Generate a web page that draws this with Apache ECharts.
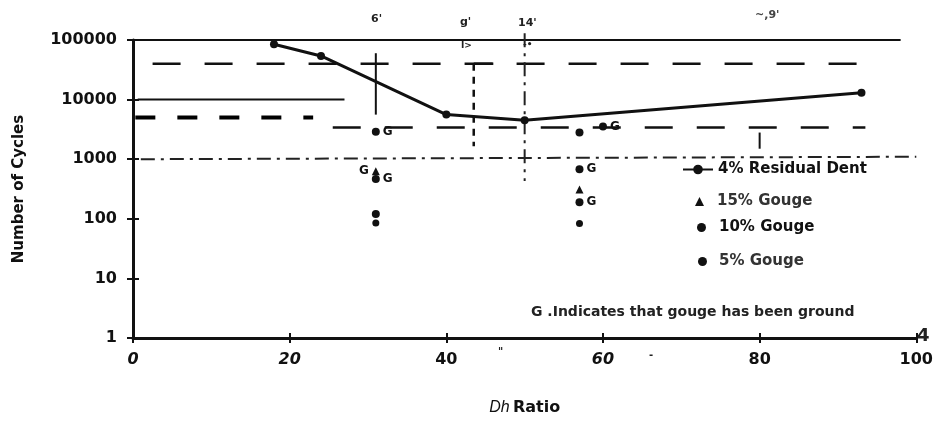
<!DOCTYPE html>
<html>
<head>
<meta charset="utf-8">
<script src="https://cdn.jsdelivr.net/npm/echarts@6/dist/echarts.min.js"></script>
<style>
  html, body { margin: 0; background: #fff; }
  #chart { width: 936px; height: 421px; }
</style>
</head>
<body>
<div id="chart"></div>
<script>
const xTicks = [0, 20, 40, 60, 80, 100];
const xItalic = [0, 20, 60];
const yTicks = [1, 10, 100, 1000, 10000, 100000];

// 4% residual dent curve
const dentRatio = [18, 24, 40, 50, 93];
const dentCycles = [85000, 54000, 5600, 4500, 13000];

// gouge tests: [Dh ratio, cycles, ground mark]
const gouge15 = [[31, 630, 'G'], [57, 310, '']];
const gouge10 = [[31, 2900, 'G'], [57, 2800, ''], [60, 3550, 'G'], [57, 680, 'G'], [31, 465, 'G'], [57, 190, 'G'], [31, 120, '']];
const gouge5 = [[57, 83, ''], [31, 85, '']];

// guide lines: [x0, y0, x1, y1]
const guideSolid = [[0, 100000, 98, 100000], [0.6, 10000, 27, 10000], [31, 60000, 31, 5600], [80, 2800, 80, 1500]];
const guideDashed = [[2.5, 40000, 93, 40000], [25.5, 3400, 93.5, 3400], [43.5, 40000, 46, 40000]];
const guideDotted = [[43.5, 40000, 43.5, 1650]];
const guideBold = [[0.3, 5000, 23, 5000]];
const guideDashDot = [[1, 1000, 100, 1100], [50, 130000, 50, 430]];

const FONT = 'DejaVu Sans';
const INK = '#111';

const chart = echarts.init(document.getElementById('chart'));

const guideSeries = (segs, lineStyle) => segs.map(s => ({
  type: 'line',
  data: [[s[0], s[1]], [s[2], s[3]]],
  symbol: 'none',
  clip: false,
  silent: true,
  z: 1,
  lineStyle: lineStyle,
}));

const gougeSeries = (name, data, symbol, size, labelPos) => ({
  name: name,
  type: 'scatter',
  data: data,
  symbol: symbol,
  symbolSize: size,
  itemStyle: { color: INK, opacity: 1 },
  z: 3,
  label: {
    show: true,
    position: labelPos,
    distance: 3,
    formatter: p => p.data[2],
    color: INK,
    fontFamily: FONT,
    fontWeight: 'bold',
    fontSize: 12,
  },
});

const noise = (x, y, text, size, extra) => ({
  type: 'text',
  left: x,
  top: y,
  style: Object.assign({ text: text, fontFamily: FONT, fontWeight: 'bold', fontSize: size, fill: '#222' }, extra || {}),
});

const legendText = (color, pad) => ({
  fontFamily: FONT, fontWeight: 'bold', fontSize: 15, color: color, padding: [0, 0, 0, pad],
});

const option = {
  animation: false,
  backgroundColor: '#fff',
  grid: { left: 133, right: 16, top: 40, bottom: 83 },
  xAxis: [
    {
      type: 'value',
      min: 0,
      max: 100,
      interval: 20,
      position: 'bottom',
      axisLine: { lineStyle: { color: INK, width: 3 } },
      axisTick: { show: true, length: 5, lineStyle: { color: INK, width: 2 } },
      splitLine: { show: false },
      axisLabel: {
        margin: 14,
        color: INK,
        formatter: v => (xItalic.includes(v) ? '{i|' + v + '}' : '{b|' + v + '}'),
        rich: {
          i: { fontFamily: FONT, fontWeight: 'bold', fontStyle: 'italic', fontSize: 16, color: INK },
          b: { fontFamily: FONT, fontWeight: 'bold', fontSize: 16, color: INK },
        },
      },
      name: '{i|Dh} {b|Ratio}',
      nameLocation: 'middle',
      nameGap: 62,
      nameTextStyle: {
        rich: {
          i: { fontFamily: 'Liberation Sans', fontStyle: 'italic', fontSize: 16, color: INK },
          b: { fontFamily: FONT, fontWeight: 'bold', fontSize: 16, color: INK },
        },
      },
    },
    {
      type: 'value',
      min: 0,
      max: 100,
      interval: 20,
      position: 'bottom',
      offset: 0,
      axisLine: { show: false },
      axisTick: { show: true, inside: true, length: 5, lineStyle: { color: INK, width: 2 } },
      axisLabel: { show: false },
      splitLine: { show: false },
    },
  ],
  yAxis: [
    {
      type: 'log',
      logBase: 10,
      min: yTicks[0],
      max: yTicks[yTicks.length - 1],
      axisLine: { show: true, lineStyle: { color: INK, width: 3 } },
      axisTick: { show: true, length: 6, lineStyle: { color: INK, width: 2 } },
      minorTick: { show: false },
      splitLine: { show: false },
      axisLabel: {
        margin: 16,
        color: INK,
        fontFamily: FONT,
        fontWeight: 'bold',
        fontSize: 16,
        formatter: v => String(Math.round(v)),
      },
      name: 'Number of Cycles',
      nameLocation: 'middle',
      nameGap: 106,
      nameTextStyle: { fontFamily: FONT, fontWeight: 'bold', fontSize: 15, color: INK },
    },
    {
      type: 'log',
      logBase: 10,
      min: yTicks[0],
      max: yTicks[yTicks.length - 1],
      position: 'left',
      offset: 0,
      axisLine: { show: false },
      axisTick: { show: true, inside: true, length: 6, lineStyle: { color: INK, width: 2 } },
      axisLabel: { show: false },
      splitLine: { show: false },
    },
  ],
  legend: [
    { data: ['4% Residual Dent'], left: 677, top: 157, itemWidth: 30, itemHeight: 12, textStyle: legendText(INK, 0) },
    { data: ['15% Gouge'], left: 690, top: 189, itemWidth: 9, itemHeight: 9, textStyle: legendText('#333', 8) },
    { data: ['10% Gouge'], left: 692, top: 215, itemWidth: 9, itemHeight: 9, textStyle: legendText(INK, 8) },
    { data: ['5% Gouge'], left: 693, top: 249, itemWidth: 9, itemHeight: 9, textStyle: legendText('#333', 7) },
  ],
  graphic: [
    noise(531, 305, 'G .Indicates that gouge has been ground', 14),
    noise(917, 327, '4', 18),
    noise(371, 14, "6'", 11),
    noise(460, 17, "g'", 11),
    noise(461, 41, 'I>', 9),
    noise(518, 18, "14'", 11),
    noise(523, 40, '-•', 9),
    noise(755, 10, "~,9'", 11, { fill: '#444' }),
    noise(498, 347, '"', 10),
    noise(649, 350, '-', 10),
  ],
  series: [
    ...guideSeries(guideSolid, { color: INK, width: 2 }),
    ...guideSeries(guideDashed, { color: INK, width: 2.5, type: [28, 24] }),
    ...guideSeries(guideDotted, { color: INK, width: 2.5, type: [7, 6] }),
    ...guideSeries(guideBold, { color: '#000', width: 4, type: [20, 22] }),
    ...guideSeries(guideDashDot, { color: '#222', width: 2, type: [14, 6, 3, 6] }),
    {
      name: '4% Residual Dent',
      type: 'line',
      data: dentRatio.map((x, i) => [x, dentCycles[i]]),
      symbol: 'circle',
      symbolSize: 8,
      z: 4,
      itemStyle: { color: INK },
      lineStyle: { color: INK, width: 3 },
    },
    gougeSeries('15% Gouge', gouge15, 'triangle', 8, 'left'),
    gougeSeries('10% Gouge', gouge10, 'circle', 8, 'right'),
    gougeSeries('5% Gouge', gouge5, 'circle', 7, 'right'),
  ],
};

chart.setOption(option);
</script>
</body>
</html>
